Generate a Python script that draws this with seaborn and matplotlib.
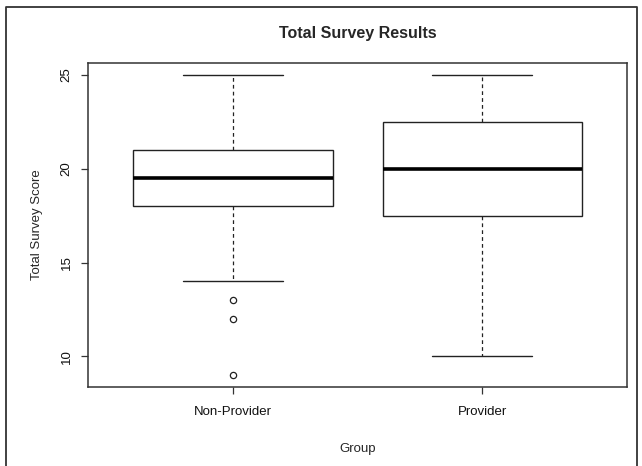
import pandas as pd
import numpy as np
import matplotlib
matplotlib.use("Agg")
import matplotlib.pyplot as plt
import seaborn as sns
from matplotlib.lines import Line2D

# === Data: individual survey scores ===
groups = ["Non-Provider", "Provider"]
non_provider_scores = [9, 12, 13, 14, 18, 18, 18, 19, 19, 19,
                       20, 20, 20, 21, 21, 21, 22, 23, 24, 25]
provider_scores = [10, 12, 14, 16, 17, 18, 19, 19, 20, 20,
                   20, 21, 22, 22, 23, 24, 24, 25, 25]

df = pd.DataFrame({
    "Group": [groups[0]] * len(non_provider_scores) + [groups[1]] * len(provider_scores),
    "Score": non_provider_scores + provider_scores,
})

# === Style ===
sns.set_style("white")
plt.rcParams["font.family"] = ["Liberation Sans", "DejaVu Sans"]

fig = plt.figure(figsize=(6.42, 4.66), dpi=100)
ax = fig.add_axes([0.137, 0.1695, 0.977 - 0.137, 0.8648 - 0.1695])

edge = "#222222"
sns.boxplot(
    data=df, x="Group", y="Score", order=groups, ax=ax,
    color="white", linecolor=edge, linewidth=1, width=0.8, whis=1.5,
    flierprops=dict(marker="o", markerfacecolor="none", markeredgecolor=edge,
                    markersize=4.5, markeredgewidth=0.9),
    whiskerprops=dict(linestyle=(0, (3, 2.5)), linewidth=0.9),
    medianprops=dict(linewidth=2.6, color="black"),
)

ax.set_xlim(-0.58, 1.58)
ax.set_ylim(8.36, 25.64)
ax.set_yticks([10, 15, 20, 25])

for s in ax.spines.values():
    s.set_color("#333333")
    s.set_linewidth(1.1)

ax.tick_params(axis="both", bottom=True, left=True, direction="out", length=5,
               width=0.9, color="#333333", labelsize=9.5, labelcolor="#111111")
ax.tick_params(axis="y", pad=6)
ax.tick_params(axis="x", pad=9)
plt.setp(ax.get_yticklabels(), rotation=90, va="center")

ax.set_title("Total Survey Results", fontsize=11.5, fontweight="bold", pad=18)
ax.set_xlabel("Group", fontsize=9.5, labelpad=18)
ax.set_ylabel("Total Survey Score", fontsize=9.5, labelpad=13)

# outer frame around the figure
frame_x = [6 / 642, 6 / 642, 637 / 642, 637 / 642]
frame_y = [-0.01, 459 / 466, 459 / 466, -0.01]
fig.add_artist(Line2D(frame_x, frame_y, transform=fig.transFigure,
                      color="#333333", linewidth=1.3))

fig.savefig("out.png", dpi=100)
